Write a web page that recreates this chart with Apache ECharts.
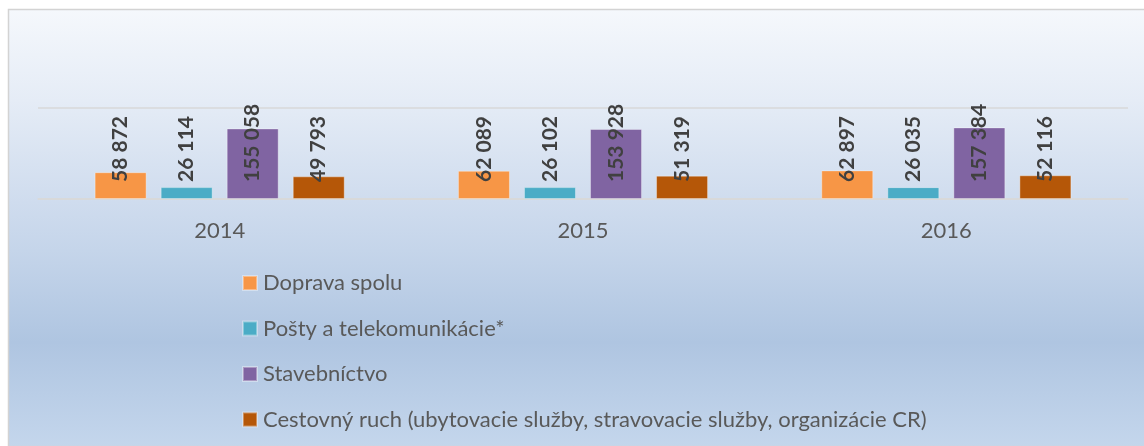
<!DOCTYPE html>
<html>
<head>
<meta charset="utf-8">
<script src="https://cdn.jsdelivr.net/npm/echarts@6/dist/echarts.min.js"></script>
<style>
html,body{margin:0;padding:0;background:#fff;}
#c{width:1144px;height:446px;}
</style>
</head>
<body>
<div id="c"></div>
<script>
var categories = ['2014', '2015', '2016'];
var seriesNames = ['Doprava spolu', 'Pošty a telekomunikácie*', 'Stavebníctvo', 'Cestovný ruch (ubytovacie služby, stravovacie služby, organizácie CR)'];
var doprava = [58872, 62089, 62897];
var posty = [26114, 26102, 26035];
var stavebnictvo = [155058, 153928, 157384];
var cestovny = [49793, 51319, 52116];
var colors = ['#F79646', '#4BACC6', '#8064A2', '#B55708'];

var FONT = 'Lato';
function fmt(v) {
  return String(v).replace(/\B(?=(\d{3})+(?!\d))/g, ' ');
}
var values = [doprava, posty, stavebnictvo, cestovny];
var series = values.map(function (d, i) {
  return {
    name: seriesNames[i],
    type: 'bar',
    data: d,
    barWidth: 52,
    barGap: '27%',
    itemStyle: { color: colors[i], borderColor: 'rgba(255,255,255,0.35)', borderWidth: 1 },
    label: {
      show: true,
      position: 'insideBottom',
      distance: 17,
      rotate: 90,
      align: 'left',
      verticalAlign: 'middle',
      formatter: function (p) { return fmt(p.value); },
      fontFamily: FONT,
      fontWeight: 'bold',
      fontSize: 21,
      color: '#404040'
    }
  };
});

var chart = echarts.init(document.getElementById('c'), null, { renderer: 'canvas' });
chart.setOption({
  animation: false,
  graphic: [{
    type: 'rect',
    z: -10,
    silent: true,
    shape: { x: 8.5, y: 9.5, width: 1200, height: 437 },
    style: {
      fill: new echarts.graphic.LinearGradient(0, 0, 0, 1, [
        { offset: 0, color: '#f5f8fc' },
        { offset: 0.21, color: '#e5ecf6' },
        { offset: 0.44, color: '#cfdcee' },
        { offset: 0.55, color: '#c5d5ea' },
        { offset: 0.76, color: '#afc5e1' },
        { offset: 1, color: '#c4d6ec' }
      ]),
      stroke: '#d3d3d3',
      lineWidth: 1.5
    }
  }],
  grid: { left: 38, right: 16, top: 108, bottom: 247, containLabel: false },
  legend: {
    orient: 'vertical',
    left: 242,
    top: 272,
    padding: 0,
    itemWidth: 14,
    itemHeight: 14,
    itemGap: 23.5,
    icon: 'rect',
    textStyle: { fontFamily: FONT, fontSize: 22, color: '#595959', lineHeight: 20, padding: [0, 0, 0, 1] },
    data: seriesNames
  },
  xAxis: {
    type: 'category',
    data: categories,
    axisLine: { lineStyle: { color: '#d9d9d9', width: 1.5 } },
    axisTick: { show: false },
    axisLabel: { fontFamily: FONT, fontSize: 22, color: '#595959', margin: 21 }
  },
  yAxis: {
    type: 'value',
    min: 0,
    max: 200000,
    interval: 200000,
    axisLabel: { show: false },
    axisLine: { show: false },
    axisTick: { show: false },
    splitLine: { lineStyle: { color: '#d9d9d9', width: 1.5 } }
  },
  series: series
});
</script>
</body>
</html>
